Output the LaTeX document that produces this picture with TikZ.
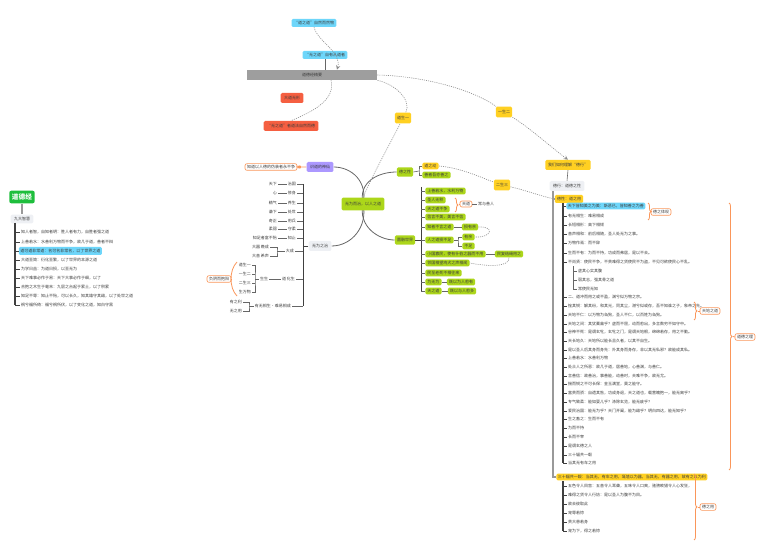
\documentclass[tikz,border=0pt]{standalone}
\usepackage{fontspec}
\newfontfamily\cjk{Noto Sans CJK SC}
\usetikzlibrary{backgrounds,calc,decorations.pathreplacing}

\definecolor{limeC}{RGB}{172,214,26}
\definecolor{goldC}{RGB}{255,208,34}
\definecolor{skyC}{RGB}{110,214,250}
\definecolor{redC}{RGB}{245,95,65}
\definecolor{purpleC}{RGB}{172,152,255}
\definecolor{paleC}{RGB}{238,240,244}
\definecolor{barC}{RGB}{158,158,158}
\definecolor{greenD}{RGB}{30,190,60}
\definecolor{orangeC}{RGB}{250,150,90}
\definecolor{inkC}{RGB}{60,60,60}

\tikzset{
	every node/.style={font=\cjk\fontsize{3}{3.6}\selectfont, text=inkC, inner sep=0.6pt},
	lime/.style={fill=limeC, rounded corners=1pt, inner xsep=1.6pt, minimum height=5.5pt},
	gold/.style={fill=goldC, rounded corners=1pt, inner xsep=1.6pt, minimum height=6pt},
	sky/.style={fill=skyC, rounded corners=1pt, inner xsep=1.8pt, minimum height=6pt},
	tomato/.style={fill=redC, rounded corners=1pt, inner xsep=2.5pt, minimum height=7.5pt},
	pale/.style={fill=paleC, rounded corners=1pt, inner xsep=2.5pt, minimum height=7.5pt},
	note/.style={draw=orangeC, line width=0.5pt, fill=white, rounded corners=1.5pt, inner xsep=1.5pt, minimum height=5pt},
	leaf/.style={anchor=west},
	branch/.style={draw=black!60, line width=0.45pt},
	stem/.style={draw=black!75, line width=0.9pt},
	gstem/.style={draw=black!40, line width=1.4pt},
	link/.style={draw=black!45, dash pattern=on 0.8pt off 0.8pt, line width=0.45pt},
	obrace/.style={draw=orangeC, line width=0.6pt, decorate, decoration={brace, amplitude=2.2pt}},
	oline/.style={draw=orangeC, line width=0.6pt}
}

\begin{document}
\begin{tikzpicture}[x=0.75pt,y=-0.75pt]
	\path[use as bounding box] (0,0) rectangle (771,552);
	
	% top
	\node[sky] (q1) at (314,23) {“道之道”自然而然物};
	\node[sky] (q2) at (325,55) {“无之道”自有从道者};
	\node[fill=barC, minimum width=97.5pt, minimum height=7.5pt] (bar) at (312,75) {道德经精要};
	\node[tomato] (r1) at (292,98) {大道无形};
	\node[tomato] (r2) at (291,126) {“无之道”者道法自然而德};
	\draw[branch] (q2.south) -- (bar.north -| q2.south);
	\draw[link, -stealth] (q1.south) .. controls (318,42) and (342,52) .. ($(bar.north)+(25,0)$);
	\draw[link] ($(bar.south)+(19,0)$) .. controls (336,100) and (312,112) .. (r2.north);
	
	% centre
	\node[lime, minimum height=9.5pt, inner xsep=2.5pt] (cen) at (363,204) {无为而治，以人之道};
	\node[fill=purpleC, rounded corners=1pt, minimum height=7.5pt, inner xsep=2.5pt] (pur) at (320,167) {识道的神仙};
	\node[note] (purn) at (271,167) {知道以人德的伪装者永不争};
	\node[pale] (wu) at (320,246) {无为之治};
	\node[lime, minimum height=7pt] (dx) at (405,172) {德之性};
	\node[lime, minimum height=7pt] (yr) at (405,240) {圆融世界};
	\node[gold, minimum height=8pt] (o1) at (403,118) {道生一};
	\node[gold, minimum height=8pt] (o2) at (504,112) {一生二};
	\node[gold, minimum height=8pt] (o3) at (502,185) {二生三};
	\draw[oline] (purn.east) .. controls (302,163) and (302,171) .. (purn.east) -- (pur.west);
	
	% right top
	\node[gold, minimum height=7.5pt, inner xsep=2pt] (hx) at (568,165) {我们如何理解“德行”};
	\node[pale] (dxg) at (567,186) {德行：道德之性};
	\node[gold] (dz) at (569,199) {德性：道之用};
	\draw[branch] (hx.south) -- (dxg.north);
	
	% left block
	\node[fill=greenD, rounded corners=1.5pt, text=white, font=\cjk\bfseries\fontsize{5}{6}\selectfont, minimum height=9.5pt, inner xsep=2pt] (ddj) at (22,197) {道德经};
	\node[pale, minimum height=6.5pt] (nine) at (22,219) {九大智慧};
	\draw[gstem, line width=0.8pt] (ddj.south) -- (nine.north);
	\node[sky, anchor=west, inner xsep=1.2pt] (lf3) at (18.5,251) {道可道非常道：名可名非常名，以了世界之道};
	\foreach \y/\t [count=\i] in {232/知人者智，自知者明：胜人者有力，自胜者强之道,
		242/上善若水：水善利万物而不争，故几于道，善者不辩,
		260/大道至简：衍化至繁，以了世界的本源之道,
		269/为学日益：为道日损，以至无为,
		278/天下难事必作于易：天下大事必作于细，以了,
		287/合抱之木生于毫末：九层之台起于累土，以了积累,
		296/知足不辱：知止不殆，可以长久，知其雄守其雌，以了处世之道,
		305/祸兮福所倚：福兮祸所伏，以了变化之道，知白守黑}
		\node[leaf] (lt\i) at (20,\y) {\t};
	\coordinate (ltr) at (15,223);
	\draw[stem] (ltr) -- (ltr |- lt8.west);
	\foreach \n in {lt1,lt2,lf3,lt3,lt4,lt5,lt6,lt7,lt8}
		\draw[stem, line width=0.7pt] (ltr |- \n.west) -- (\n.west);
	
	% left tree of wu
	\coordinate (wtr) at (303,184);
	\foreach \y/\a/\b [count=\i] in {184/天下/治国, 193/心/修身, 203/精气/养生, 212/谦下/处世, 221/奇正/用兵, 229/柔弱/守柔, 238/知足者富不殆/知止} {
		\node[anchor=east] (wb\i) at (297,\y) {\b};
		\node[anchor=east] (wa\i) at (278,\y) {\a};
		\draw[branch] (wa\i.east) -- (wb\i.west);
		\draw[branch] (wb\i.east) -- (wb\i.east -| wtr);
	}
	\node[anchor=east] (wb8) at (295,251) {大成};
	\node[anchor=east] (wc1) at (270,247) {大器 晚成};
	\node[anchor=east] (wc2) at (270,256) {大音 希声};
	\coordinate (wk1) at (277,251);
	\draw[branch] (wc1.east) -| (wk1) |- (wc2.east);
	\draw[branch] (wk1) -- (wb8.west);
	\draw[branch] (wb8.east) -- (wb8.east -| wtr);
	
	\node[anchor=east] (wb9) at (296,279) {道 化生};
	\node (wm) at (264,279) {生生};
	\draw[branch] (wm.east) -- (wb9.west);
	\draw[branch] (wb9.east) -- (wb9.east -| wtr);
	\foreach \y/\t [count=\i] in {265/道生一, 274/一生二, 283/二生三, 292/生万物}
		\node[anchor=east] (wd\i) at (252,\y) {\t};
	\coordinate (wk2) at (255,279);
	\draw[branch] (wd1.east) -| (wk2) |- (wd4.east);
	\draw[branch] (wd2.east) -- (wd2.east -| wk2);
	\draw[branch] (wd3.east) -- (wd3.east -| wk2);
	\draw[branch] (wk2) -- (wm.west);
	\node[note] (wn) at (219,279) {负阴而抱阳};
	\draw[oline] (237,262) .. controls (229,270) and (229,288) .. (237,296);
	\draw[oline] (231,279) -- (wn.east);
	
	\node[anchor=east] (wb10) at (292,306) {有无相生·难易相成};
	\node[anchor=east] (we1) at (243,302) {有之利};
	\node[anchor=east] (we2) at (243,311) {无之用};
	\coordinate (wk3) at (249,306);
	\draw[branch] (we1.east) -| (wk3) |- (we2.east);
	\draw[branch] (wk3) -- (wb10.west);
	\draw[branch] (wb10.east) -- (wb10.east -| wtr);
	\draw[stem, line width=0.7pt] (wtr) -- (wtr |- wb10.east);
	\draw[stem, line width=0.7pt] (wu.west) -- (wu.west -| wtr);
	
	% de zhi xing
	\node[gold, anchor=west, minimum height=5pt] (zd) at (422,166) {道之动};
	\node[lime, anchor=west, minimum height=5pt] (zs) at (422,175) {善者吾亦善之};
	\coordinate (zk) at (419,171);
	\draw[branch] (dx.east) -- (zk);
	\draw[branch] (zd.west) -| (zk) |- (zs.west);
	
	% yuan rong shi jie
	\foreach \y/\t [count=\i] in {191/上善若水，水利万物, 200/圣人无积, 209/天之道不争, 217/信言不美，美言不信, 227/知者不言之道, 240/人之道损不足, 254/小国寡民，使有什伯之器而不用, 263/邻国相望鸡犬之声相闻, 273/民至老死不相往来, 282/为无为, 291/天之道}
		\node[lime, leaf, minimum height=5pt] (g\i) at (425,\y) {\t};
	\coordinate (gtr) at (421,187);
	\draw[stem, line width=0.7pt] (gtr) -- (gtr |- g11.west);
	\draw[stem, line width=0.7pt] (yr.east) -- (yr.east -| gtr);
	\foreach \i in {1,...,11}
		\draw[branch] (gtr |- g\i.west) -- (g\i.west);
	\node[note, minimum height=4.5pt] (td) at (466,204) {天道};
	\node (tds) at (486,204) {常与善人};
	\draw[obrace] (455,198) -- (455,212);
	\draw[oline] (459,204) -- (td.west);
	\draw[branch] (td.east) -- (tds.west);
	\node[lime, minimum height=5pt] (sy) at (470,227) {损有余};
	\draw[branch] (g5.east) -- (sy.west);
	\node[lime, anchor=west, minimum height=5pt] (yy) at (462,237) {有余};
	\node[lime, anchor=west, minimum height=5pt] (bz) at (462,246) {不足};
	\coordinate (gk) at (458,240);
	\draw[branch] (g6.east) -- (gk);
	\draw[branch] (yy.west) -| (gk) |- (bz.west);
	\node[lime, minimum height=5pt] (jm) at (509,254) {民复结绳用之};
	\draw[branch] (g7.east) -- (jm.west);
	\node[lime, minimum height=5pt] (g10s) at (461,282) {既以为人愈有};
	\draw[branch] (g10.east) -- (g10s.west);
	\node[lime, minimum height=5pt] (g11s) at (462,291) {既以与人愈多};
	\draw[branch] (g11.east) -- (g11s.west);
	
	% right list, first part
	\coordinate (rtr) at (563,203);
	\coordinate (gtrk) at (553,191);
	\node[sky, leaf, minimum height=5pt, inner xsep=1.2pt] (rt0) at (566,206) {天下皆知美之为美：斯恶已，皆知善之为善};
	\foreach \y/\t [count=\i] in {216/有无相生：难易相成, 225/长短相形：高下相倾, 234/音声相和：前后相随，圣人处无为之事。, 243/万物作焉：而不辞, 253/生而不有：为而不恃，功成而弗居，是以不去。, 262/不尚贤：使民不争，不贵难得之货使民不为盗，不见可欲使民心不乱。,
		297/二、道冲而用之或不盈，渊兮似万物之宗。, 306/挫其锐：解其纷，和其光，同其尘，湛兮似或存，吾不知谁之子，象帝之先。, 315/天地不仁：以万物为刍狗，圣人不仁，以百姓为刍狗。, 324/天地之间：其犹橐龠乎？虚而不屈，动而愈出，多言数穷不如守中。, 332/谷神不死：是谓玄牝，玄牝之门，是谓天地根，绵绵若存，用之不勤。, 341/天长地久：天地所以能长且久者，以其不自生。, 350/是以圣人后其身而身先：外其身而身存，非以其无私邪？故能成其私。, 358/上善若水：水善利万物, 367/处众人之所恶：故几于道，居善地，心善渊，与善仁。, 376/言善信：政善治，事善能，动善时，夫唯不争，故无尤。, 384/揣而锐之不可长保：金玉满堂，莫之能守。, 393/富贵而骄：自遗其咎，功成身退，天之道也，载营魄抱一，能无离乎？, 402/专气致柔：能如婴儿乎？涤除玄览，能无疵乎？, 411/爱民治国：能无为乎？天门开阖，能为雌乎？明白四达，能无知乎？, 419/生之畜之：生而不有, 428/为而不恃, 437/长而不宰, 446/是谓玄德之人, 455/三十辐共一毂, 463/当其无有车之用}
		\node[leaf] (rt\i) at (567,\y) {\t};
	\foreach \i in {0,...,26}
		\draw[stem, line width=0.7pt] (rtr |- rt\i.west) -- (rt\i.west);
	\draw[stem] (rtr) -- (rtr |- rt26.west);
	\foreach \y/\t [count=\i] in {271/虚其心实其腹, 280/弱其志，强其骨之道, 289/常使民无知}
		\node[leaf] (rs\i) at (577,\y) {\t};
	\coordinate (rsk) at (573,266);
	\draw[branch, line width=0.6pt] (rsk) -- (rsk |- rs3.west);
	\foreach \i in {1,2,3}
		\draw[branch, line width=0.6pt] (rsk |- rs\i.west) -- (rs\i.west);
	
	% right list, second part
	\node[gold, leaf, minimum height=5pt, inner xsep=1.2pt] (yb) at (556,477) {三十辐共一毂：当其无，有车之用，埏埴以为器，当其无，有器之用，故有之以为利};
	\foreach \y/\t [count=\i] in {486/五色令人目盲：五音令人耳聋，五味令人口爽，驰骋畋猎令人心发狂，, 495/难得之货令人行妨：是以圣人为腹不为目。, 504/故去彼取此, 513/宠辱若惊, 522/贵大患若身, 531/宠为下，得之若惊}
		\node[leaf] (ut\i) at (567,\y) {\t};
	\coordinate (utr) at (563,481);
	\draw[stem] (utr) -- (utr |- ut6.west);
	\foreach \i in {1,...,6}
		\draw[stem, line width=0.7pt] (utr |- ut\i.west) -- (ut\i.west);
	\draw[gstem] (dxg.south -| gtrk) |- (dz.west);
	\draw[gstem] (dz.west -| gtrk) |- (yb.west);
	
	% orange notes on the right
	\node[note] (n1) at (661,212) {德之体现};
	\draw[obrace] (648,203) -- (648,220);
	\draw[oline] (652,211.5) -- (n1.west);
	\node[note] (n2) at (710,311) {天地之道};
	\draw[obrace] (694,302) -- (694,320);
	\draw[oline] (698,311) -- (n2.west);
	\node[note] (n3) at (745,337) {道德之理};
	\draw[obrace] (729,203) -- (729,470);
	\draw[oline] (733,336.5) -- (n3.west);
	\node[note] (n4) at (708,507) {德之用};
	\draw[obrace] (694,474) -- (694,540);
	\draw[oline] (698,507) -- (n4.west);
	
	\begin{pgfonlayer}{background}
		\draw[branch, line width=0.6pt] (pur.east) .. controls (352,167) and (368,182) .. (cen.center);
		\draw[branch, line width=0.6pt] (dx.west) .. controls (378,172) and (358,182) .. (cen.center);
		\draw[branch, line width=0.6pt] (wu.east) .. controls (352,246) and (368,226) .. (cen.center);
		\draw[branch, line width=0.6pt] (yr.west) .. controls (378,240) and (358,226) .. (cen.center);
		\draw[link] (cen.north) .. controls (375,170) and (392,140) .. (o1) .. controls (412,100) and (395,84) .. (bar.south east);
		\draw[link] (bar.east) .. controls (420,76) and (470,88) .. (o2);
		\draw[link, -stealth] (o2) .. controls (530,128) and (552,148) .. (hx.north);
		\draw[link] (zd.east) .. controls (462,168) and (482,178) .. (o3) .. controls (525,190) and (540,196) .. (dz.west);
		\draw[link] (sy.east) .. controls (495,226) and (492,238) .. (yy.east);
		\draw[link] (jm.south) .. controls (510,268) and (485,266) .. (g8.east);
	\end{pgfonlayer}
\end{tikzpicture}
\end{document}
